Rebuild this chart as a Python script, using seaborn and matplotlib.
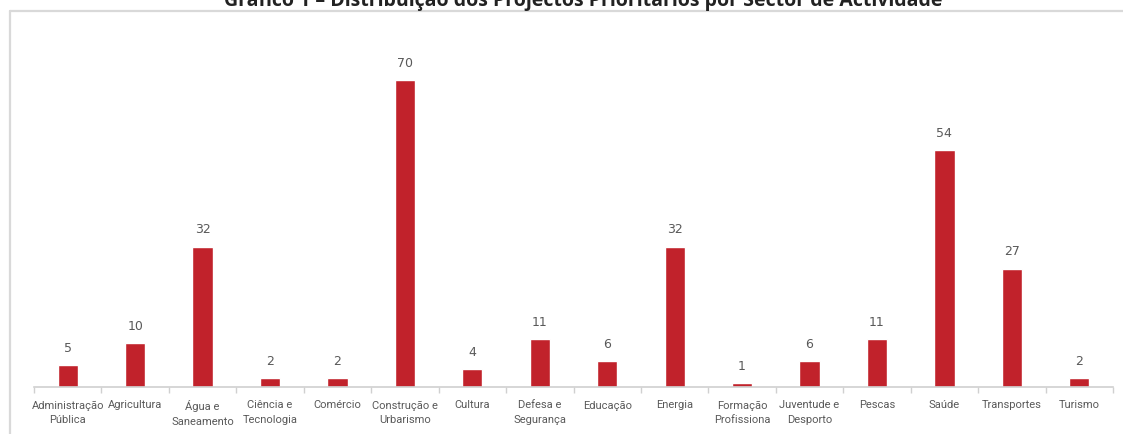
import matplotlib
matplotlib.use("Agg")
import matplotlib.pyplot as plt
from matplotlib.lines import Line2D
import seaborn as sns
import pandas as pd

categories = ["Administração\nPública", "Agricultura", "Água e\nSaneamento", "Ciência e\nTecnologia",
              "Comércio", "Construção e\nUrbarismo", "Cultura", "Defesa e\nSegurança", "Educação",
              "Energia", "Formação\nProfissiona", "Juventude e\nDesporto", "Pescas", "Saúde",
              "Transportes", "Turismo"]
values = [5, 10, 32, 2, 2, 70, 4, 11, 6, 32, 1, 6, 11, 54, 27, 2]
title = "Gráfico 1 – Distribuição dos Projectos Prioritários por Sector de Actividade"

df = pd.DataFrame({"sector": categories, "n": values})

sns.set_theme(style="white")
plt.rcParams['font.family'] = ['Roboto', 'DejaVu Sans']

W, H = 1123, 435
fig = plt.figure(figsize=(W / 100, H / 100), dpi=100)
ax = fig.add_axes([34 / W, 47 / H, (1113 - 34) / W, 351 / H])

bar_color = "#C1222B"
sns.barplot(data=df, x="sector", y="n", color=bar_color, width=0.30, saturation=1, ax=ax)
ax.set_ylim(0, 80)
ax.set_xlim(-0.5, len(categories) - 0.5)
ax.set_xlabel("")
ax.set_ylabel("")
ax.set_yticks([])
for s in ["top", "right", "left"]:
    ax.spines[s].set_visible(False)
ax.spines["bottom"].set_color("#d0d0d0")
ax.spines["bottom"].set_linewidth(1.2)

# category boundary ticks
ax.set_xticks([i - 0.5 for i in range(len(categories) + 1)], minor=True)
ax.tick_params(axis="x", which="minor", length=4, width=1, color="#d0d0d0", bottom=True)
ax.tick_params(axis="x", which="major", length=0, pad=9, labelsize=8, labelcolor="#595959")
ax.set_xticks(range(len(categories)))
ax.set_xticklabels(categories, linespacing=1.6)

for i, v in enumerate(values):
    ax.annotate(str(v), (i, v), xytext=(0, 8), textcoords="offset points",
                ha="center", va="bottom", fontsize=9, color="#595959",
                family=["DejaVu Sans"])

# title, clipped at top like the reference
fig.text(583 / W, 1 - 1 / H, title, ha="center", va="center", fontsize=14,
         fontweight="bold", color="#222222", family=["Open Sans", "DejaVu Sans"])

# light gray frame (left and top)
frame_c = "#d9d9d9"
fig.add_artist(Line2D([10 / W, 10 / W], [0, 1 - 12 / H], transform=fig.transFigure,
                      color=frame_c, linewidth=1.6))
fig.add_artist(Line2D([10 / W, 1], [1 - 12 / H, 1 - 12 / H], transform=fig.transFigure,
                      color=frame_c, linewidth=1.6))

fig.savefig("out.png", dpi=100)
